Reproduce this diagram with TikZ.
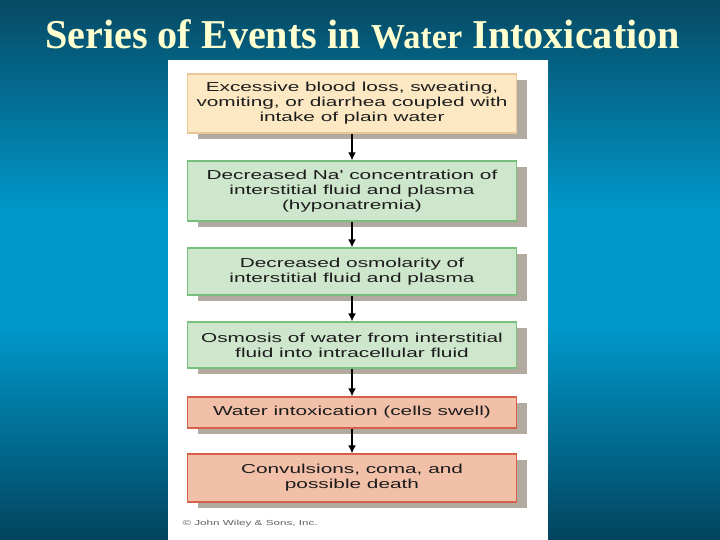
\documentclass[tikz,border=0pt]{standalone}
\usepackage{fontspec}
\setmainfont{Liberation Serif}
\newfontfamily\titlefont[FakeStretch=0.98]{Liberation Serif}
\newfontfamily\boxfont[FakeStretch=1.6]{Liberation Sans}
\usetikzlibrary{shadows,arrows.meta}

\definecolor{slidetop}{RGB}{6,74,100}
\definecolor{slidemid}{RGB}{0,153,204}
\definecolor{slidebot}{RGB}{2,68,94}
\definecolor{titlecream}{RGB}{255,255,208}
\definecolor{textgrey}{RGB}{28,28,28}
\definecolor{shadowgrey}{RGB}{178,170,158}
\definecolor{creamfill}{RGB}{252,233,196}
\definecolor{creamline}{RGB}{232,200,150}
\definecolor{greenfill}{RGB}{206,230,204}
\definecolor{greenline}{RGB}{120,190,125}
\definecolor{salmonfill}{RGB}{242,192,168}
\definecolor{salmonline}{RGB}{214,96,74}

% tikz fits 25bp..75bp of the shading to the path
\pgfdeclareverticalshading{slideshade}{100bp}{color(0bp)=(slidebot); color(25bp)=(slidebot);
  color(45bp)=(slidemid); color(55bp)=(slidemid); color(75bp)=(slidetop); color(100bp)=(slidetop)}

\tikzset{
  event/.style={draw, line width=1.2pt, inner sep=0pt, minimum width=329pt,
    align=center, text=textgrey, font=\boxfont\fontsize{13}{15}\selectfont,
    general shadow={fill=shadowgrey, shadow xshift=10pt, shadow yshift=-6pt}},
  cause/.style={event, fill=creamfill, draw=creamline},
  change/.style={event, fill=greenfill, draw=greenline},
  danger/.style={event, fill=salmonfill, draw=salmonline},
  flow/.style={-{Latex[length=8pt,width=8pt]}, line width=1.8pt, black}
}

\begin{document}
\begin{tikzpicture}[x=1pt, y=-1pt]
    % slide background
    \begin{scope}[y=1pt]
        \shade [shading=slideshade] (0,-540) rectangle (720,0);
    \end{scope}
    \fill [white] (168,60) rectangle (548,540);

    \node (title) at (362.5,34) [text=titlecream, font=\titlefont\bfseries\fontsize{41}{41}\selectfont]
        {Series of Events in {\fontsize{35}{35}\selectfont Water} Intoxication};

    % chain of events
    \node (loss) at (352,103.5) [cause, minimum height=59pt]
        {Excessive blood loss, sweating,\\ vomiting, or diarrhea coupled with\\ intake of plain water};
    \node (sodium) at (352,191) [change, minimum height=60pt]
        {Decreased Na' concentration of\\ interstitial fluid and plasma\\ (hyponatremia)};
    \node (osmolarity) at (352,271.5) [change, minimum height=47pt]
        {Decreased osmolarity of\\ interstitial fluid and plasma};
    \node (osmosis) at (352,345) [change, minimum height=46pt]
        {Osmosis of water from interstitial\\ fluid into intracellular fluid};
    \node (swell) at (352,412.5) [danger, minimum height=31pt]
        {Water intoxication (cells swell)};
    \node (death) at (352,478) [danger, minimum height=48pt]
        {Convulsions, coma, and\\ possible death};

    \node (credit) at (179,524) [anchor=west, text=textgrey!70,
        font=\boxfont\fontsize{7.3}{7.3}\selectfont]
        {\textcopyright{} John Wiley \& Sons, Inc.};

    \draw [flow] (loss) -- (sodium);
    \draw [flow] (sodium) -- (osmolarity);
    \draw [flow] (osmolarity) -- (osmosis);
    \draw [flow] (osmosis) -- (swell);
    \draw [flow] (swell) -- (death);
\end{tikzpicture}
\end{document}
